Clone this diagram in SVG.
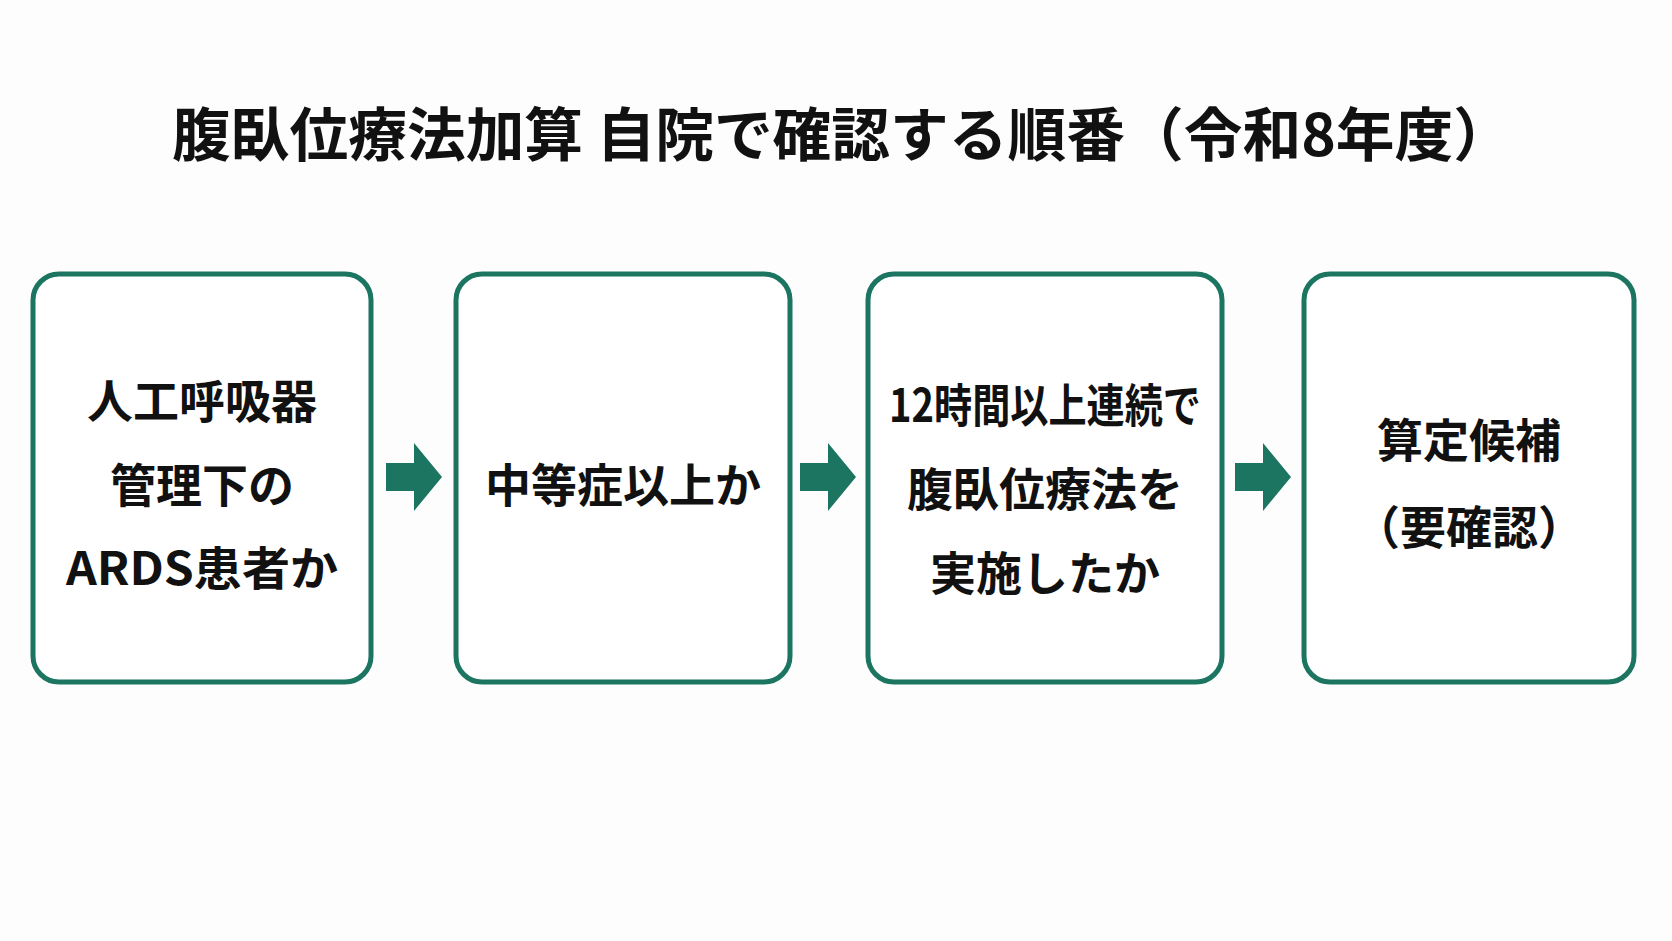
<svg xmlns="http://www.w3.org/2000/svg" width="1672" height="941" viewBox="0 0 1672 941">
<style>
.box{fill:#fff;stroke:#1b7560;stroke-width:5}
.t{font-family:"Noto Sans CJK JP","Noto Sans",sans-serif;font-weight:bold;fill:#111;text-anchor:middle;dominant-baseline:central}
.bt{font-size:46px}
.arr{fill:#1b7560}
</style>
<rect width="1672" height="941" fill="#fdfdfd"/>
<text class="t" x="842" y="131" font-size="58" textLength="1340" lengthAdjust="spacingAndGlyphs">腹臥位療法加算 自院で確認する順番（令和8年度）</text>
<g id="n1"><rect class="box" x="33" y="274" width="338" height="408" rx="26"/>
<text class="t bt" x="202" y="398">人工呼吸器</text><text class="t bt" x="202" y="482">管理下の</text><text class="t bt" x="202" y="565" textLength="272" lengthAdjust="spacingAndGlyphs">ARDS患者か</text></g>
<g id="n2"><rect class="box" x="456" y="274" width="334" height="408" rx="26"/>
<text class="t bt" x="623" y="482">中等症以上か</text></g>
<g id="n3"><rect class="box" x="868" y="274" width="354" height="408" rx="26"/>
<text class="t bt" x="1045" y="402" textLength="312" lengthAdjust="spacingAndGlyphs">12時間以上連続で</text><text class="t bt" x="1045" y="486">腹臥位療法を</text><text class="t bt" x="1045" y="570">実施したか</text></g>
<g id="n4"><rect class="box" x="1304" y="274" width="330" height="408" rx="26"/>
<text class="t bt" x="1469" y="437">算定候補</text><text class="t bt" x="1469" y="524">（要確認）</text></g>
<g id="connectors">
<polygon class="arr" points="386,463 414,463 414,443 442,477 414,511 414,491 386,491"/>
<polygon class="arr" points="800,463 828,463 828,443 856,477 828,511 828,491 800,491"/>
<polygon class="arr" points="1235,463 1263,463 1263,443 1291,477 1263,511 1263,491 1235,491"/>
</g>
</svg>
